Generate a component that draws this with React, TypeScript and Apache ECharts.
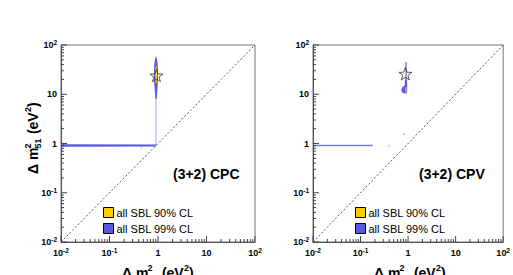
import React, { useEffect, useRef } from 'react';
import * as echarts from 'echarts';

// axis structure
const decades = [0.01, 0.1, 1, 10, 100];
const minorSteps = [2, 3, 4, 5, 6, 7, 8, 9];
const diagonal = [[0.01, 0.01], [100, 100]];

// (3+2) CPC allowed regions [Δm²41, Δm²51]
const cpc99Band = [[0.01, 0.86], [0.9, 0.87], [0.93, 0.95], [0.012, 0.96], [0.012, 1.01], [0.01, 1.01]];
const cpc99Spike = [[0.45, 0.87], [0.47, 0.87], [0.465, 0.79], [0.455, 0.79]];
const cpc99Stem = [[0.88, 0.9], [0.93, 0.9], [0.93, 9], [0.88, 9]];
const cpc99Blob = [[0.9, 60], [0.96, 50], [1.0, 35], [1.0, 20], [0.97, 12], [0.94, 8], [0.89, 8], [0.86, 12], [0.82, 22], [0.83, 35], [0.86, 50]];
const cpc90Blob = [[0.92, 40], [0.95, 32], [0.96, 22], [0.94, 17], [0.9, 17], [0.88, 22], [0.88, 32]];
const cpcBest = [[0.93, 24]];

// (3+2) CPV allowed regions
const cpv99Band = [[0.01, 0.88], [0.18, 0.88], [0.18, 0.94], [0.01, 0.94]];
const cpv99Upper = [[0.87, 45], [0.94, 45], [0.95, 20], [0.86, 20]];
const cpv99Lower = [[0.86, 20], [0.95, 20], [0.96, 14], [0.95, 10.5], [0.85, 10.3], [0.74, 11], [0.72, 12.5], [0.76, 14], [0.85, 15]];
const cpv90Low = [[0.87, 14], [0.92, 14], [0.92, 10.8], [0.87, 10.8]];
const cpv90Star = [[0.87, 30], [0.91, 30], [0.91, 22], [0.87, 22]];
const cpvStray = [[0.4, 0.9], [0.83, 1.55]];
const cpvBest = [[0.875, 26]];

const legendNames = ['all SBL 90% CL', 'all SBL 99% CL'];
const panelLabels = ['(3+2) CPC', '(3+2) CPV'];

const YELLOW = '#ffcc00';
const BLUE = '#5a5ae0';
const LIGHTBLUE = '#b4b4f2';
const FONT = '"Liberation Sans", Arial, Helvetica, sans-serif';
const STAR = 'path://M0,-10L2.35,-3.24L9.51,-3.09L3.8,1.24L5.88,8.09L0,4L-5.88,8.09L-3.8,1.24L-9.51,-3.09L-2.35,-3.24Z';

const labelFmt = (v: number) => {
  const e = Math.round(Math.log10(v));
  if (e === 0) return '{b|1}';
  if (e === 1) return '{b|10}';
  return `{b|10}{s|${e}}`;
};
const labelRich = {
  b: { fontFamily: FONT, fontWeight: 'bold', fontSize: 9, color: '#000', lineHeight: 12 },
  s: { fontFamily: FONT, fontWeight: 'bold', fontSize: 6.5, color: '#000', verticalAlign: 'top', lineHeight: 12, padding: [0, 0, 4, 0] },
};

const polyItem = (pts: number[][], color: string) => (params: any, api: any) => ({
  type: 'polygon',
  shape: { points: pts.map((p) => api.coord(p)) },
  style: { fill: color },
});

const tickItem = (params: any, api: any) => {
  const children: any[] = [];
  decades.forEach((d) => {
    [1, ...minorSteps].forEach((s) => {
      const v = d * s;
      if (v > 100.0001) return;
      const len = s === 1 ? 6 : 3;
      const px = api.coord([v, 0.01]);
      children.push({ type: 'line', shape: { x1: px[0], y1: px[1], x2: px[0], y2: px[1] - len }, style: { stroke: '#444', lineWidth: 1 } });
      const py = api.coord([0.01, v]);
      children.push({ type: 'line', shape: { x1: py[0], y1: py[1], x2: py[0] + len, y2: py[1] }, style: { stroke: '#444', lineWidth: 1 } });
    });
  });
  return { type: 'group', children };
};

const regionSeries = (idx: number, name: string, pts: number[][], color: string, legendColor: string) => ({
  type: 'custom',
  name,
  xAxisIndex: idx,
  yAxisIndex: idx,
  itemStyle: { color: legendColor },
  data: [[1, 1]],
  renderItem: polyItem(pts, color),
  silent: true,
  z: 3,
});

const titleParts = (sub: string) => [
  { t: 'Δ m', x: 0, dy: 0, size: 14 },
  { t: '2', x: 25.5, dy: -5, size: 9 },
  { t: sub, x: 25.5, dy: 5, size: 9 },
  { t: ' (eV', x: 36, dy: 0, size: 14 },
  { t: '2', x: 62, dy: -5, size: 9 },
  { t: ')', x: 67, dy: 0, size: 14 },
];
const TITLE_W = 72;

const titleGroup = (sub: string, x: number, y: number, rotation: number) => ({
  type: 'group',
  x,
  y,
  rotation,
  children: titleParts(sub).map((p) => ({
    type: 'text',
    x: p.x - TITLE_W / 2,
    y: p.dy,
    style: {
      text: p.t,
      font: `bold ${p.size}px ${FONT}`,
      fill: '#000',
      verticalAlign: 'middle',
      align: 'left',
    },
  })),
});

export default function App() {
  const ref = useRef<HTMLDivElement>(null);
  useEffect(() => {
    if (!ref.current) return;
    const chart = echarts.init(ref.current, undefined, { renderer: 'svg' });
    const grids = [
      { left: 61, top: 45, width: 194, height: 197 },
      { left: 313, top: 45, width: 193, height: 197 },
    ];
    const axisCommon = {
      type: 'log',
      logBase: 10,
      min: 0.01,
      max: 100,
      axisLine: { show: true, lineStyle: { color: '#555', width: 1 } },
      axisTick: { show: false },
      splitLine: { show: false },
      minorTick: { show: false },
    };
    const xAxes = [0, 1].map((i) => ({
      ...axisCommon,
      gridIndex: i,
      position: 'bottom',
      axisLabel: { formatter: labelFmt, rich: labelRich, margin: 5 },
    }));
    const yAxes = [0, 1].map((i) => ({
      ...axisCommon,
      gridIndex: i,
      position: 'left',
      axisLabel: { formatter: labelFmt, rich: labelRich, margin: 4 },
    }));

    const series: any[] = [];
    [0, 1].forEach((i) => {
      series.push({
        type: 'line',
        xAxisIndex: i,
        yAxisIndex: i,
        data: diagonal,
        symbol: 'none',
        lineStyle: { color: '#555', width: 1, type: [2, 2] },
        silent: true,
        z: 2,
      });
    });
    // CPC
    series.push(regionSeries(0, legendNames[1], cpc99Stem, LIGHTBLUE, BLUE));
    series.push(regionSeries(0, legendNames[1], cpc99Band, BLUE, BLUE));
    series.push(regionSeries(0, legendNames[1], cpc99Spike, '#8c8ce8', BLUE));
    series.push(regionSeries(0, legendNames[1], cpc99Blob, BLUE, BLUE));
    series.push(regionSeries(0, legendNames[0], cpc90Blob, YELLOW, YELLOW));
    // CPV
    series.push(regionSeries(1, legendNames[1], cpv99Band, '#7a7ae6', BLUE));
    series.push(regionSeries(1, legendNames[1], cpv99Upper, '#8c8ce8', BLUE));
    series.push(regionSeries(1, legendNames[1], cpv99Lower, BLUE, BLUE));
    series.push(regionSeries(1, legendNames[0], cpv90Low, YELLOW, YELLOW));
    series.push(regionSeries(1, legendNames[0], cpv90Star, YELLOW, YELLOW));
    series.push({
      type: 'scatter',
      xAxisIndex: 1,
      yAxisIndex: 1,
      data: cpvStray,
      symbol: 'rect',
      symbolSize: 2,
      itemStyle: { color: LIGHTBLUE },
      silent: true,
      z: 3,
    });
    [cpcBest, cpvBest].forEach((pts, i) => {
      series.push({
        type: 'scatter',
        xAxisIndex: i,
        yAxisIndex: i,
        data: pts,
        symbol: STAR,
        symbolSize: 13,
        symbolKeepAspect: true,
        itemStyle: { color: 'rgba(0,0,0,0)', borderColor: '#333', borderWidth: 1 },
        silent: true,
        z: 5,
      });
      series.push({
        type: 'custom',
        xAxisIndex: i,
        yAxisIndex: i,
        data: [[1, 1]],
        renderItem: tickItem,
        silent: true,
        z: 6,
      });
    });

    const legendData = legendNames.map((n) => ({ name: n, itemStyle: { borderColor: '#000', borderWidth: 1 } }));
    const legendBase = {
      orient: 'vertical',
      padding: 0,
      itemWidth: 10,
      itemHeight: 10,
      itemGap: 5,
      icon: 'rect',
      selectedMode: false,
      textStyle: { fontFamily: FONT, fontSize: 11, color: '#000', padding: [0, 0, 0, -2] },
      data: legendData,
    };

    chart.setOption({
      animation: false,
      grid: grids.map((g) => ({ ...g, show: true, borderColor: '#777', borderWidth: 1, backgroundColor: '#fff' })),
      xAxis: xAxes,
      yAxis: yAxes,
      legend: [
        { ...legendBase, left: 103, top: 207 },
        { ...legendBase, left: 355, top: 207 },
      ],
      series,
      graphic: [
        { type: 'text', x: 173, y: 174, style: { text: panelLabels[0], font: `bold 14px ${FONT}`, fill: '#000', verticalAlign: 'middle' } },
        { type: 'text', x: 419, y: 174, style: { text: panelLabels[1], font: `bold 14px ${FONT}`, fill: '#000', verticalAlign: 'middle' } },
        titleGroup('51', 33, 138, Math.PI / 2),
        titleGroup('41', 158, 273, 0),
        titleGroup('41', 410, 273, 0),
      ],
    });
    return () => chart.dispose();
  }, []);
  return <div ref={ref} style={{ width: 513, height: 275, position: 'absolute', left: 0, top: 0 }} />;
}
